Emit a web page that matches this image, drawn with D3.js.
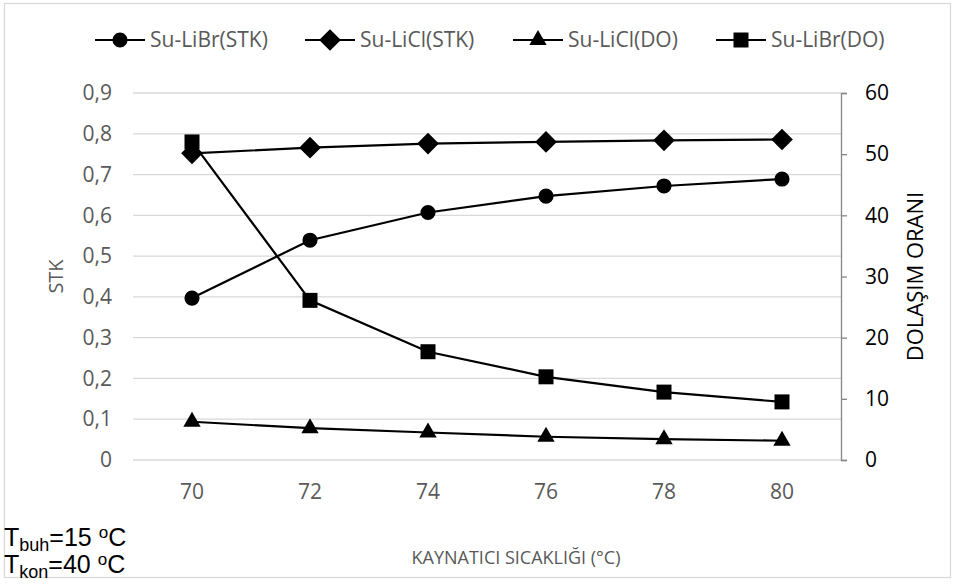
<!DOCTYPE html>
<html>
<head>
<meta charset="utf-8">
<script src="https://cdn.jsdelivr.net/npm/d3@7"></script>
<style>
  body { margin: 0; background: #fff; }
  svg { display: block; }
  text { font-family: "Open Sans", sans-serif; }
</style>
</head>
<body>
<svg id="chart" width="955" height="585"></svg>
<script>
// data
const temps = [70, 72, 74, 76, 78, 80];
const libStk = [0.397, 0.539, 0.607, 0.647, 0.672, 0.689];
const liclStk = [0.752, 0.766, 0.776, 0.780, 0.784, 0.786];
const liclDo = [6.25, 5.2, 4.5, 3.8, 3.4, 3.15];
const libDo = [52.0, 26.1, 17.7, 13.6, 11.1, 9.5];
const leftTicks = [0, 0.1, 0.2, 0.3, 0.4, 0.5, 0.6, 0.7, 0.8, 0.9];
const rightTicks = [0, 10, 20, 30, 40, 50, 60];

const series = [
  { name: "Su-LiBr(STK)", values: libStk, axis: "left", sym: d3.symbolCircle, size: 180 },
  { name: "Su-LiCl(STK)", values: liclStk, axis: "left", sym: d3.symbolDiamond2, size: 300 },
  { name: "Su-LiCl(DO)", values: liclDo, axis: "right", sym: d3.symbolTriangle, size: 130 },
  { name: "Su-LiBr(DO)", values: libDo, axis: "right", sym: d3.symbolSquare, size: 225 }
];

const svg = d3.select("#chart");
const plot = { left: 133, right: 841, top: 93, bottom: 460 };

// outer frame
svg.append("rect")
  .attr("x", 4.5).attr("y", 3.5).attr("width", 946).attr("height", 574)
  .attr("fill", "none").attr("stroke", "#d9d9d9").attr("stroke-width", 1.3);

const x = d3.scaleBand().domain(temps).range([plot.left, plot.right]);
const yL = d3.scaleLinear().domain([0, 0.9]).range([plot.bottom, plot.top]);
const yR = d3.scaleLinear().domain([0, 60]).range([plot.bottom, plot.top]);

// gridlines
svg.append("g").selectAll("line").data(leftTicks).join("line")
  .attr("x1", plot.left).attr("x2", plot.right)
  .attr("y1", d => yL(d)).attr("y2", d => yL(d))
  .attr("stroke", "#d9d9d9").attr("stroke-width", 1.3);

// left axis labels
const gl = svg.append("g")
  .attr("transform", `translate(${plot.left},0)`)
  .call(d3.axisLeft(yL).tickValues(leftTicks).tickSize(0).tickPadding(21)
    .tickFormat(d => d3.format(".1f")(d).replace(".", ",").replace(/^0,0$/, "0")));
gl.select(".domain").remove();
gl.selectAll("text").attr("fill", "#595959").style("font-size", "21px");

// right axis
const gr = svg.append("g")
  .attr("transform", `translate(${plot.right},0)`)
  .call(d3.axisRight(yR).tickValues(rightTicks).tickSize(6).tickPadding(18));
gr.select(".domain").attr("stroke", "#868686").attr("stroke-width", 1.3);
gr.selectAll(".tick line").attr("stroke", "#868686").attr("stroke-width", 1.3);
gr.selectAll("text").attr("fill", "#000").style("font-size", "21px");

// x axis labels
const gx = svg.append("g")
  .attr("transform", `translate(0,${plot.bottom})`)
  .call(d3.axisBottom(x).tickSize(0).tickPadding(24));
gx.select(".domain").remove();
gx.selectAll("text").attr("fill", "#595959").style("font-size", "21px");

// axis titles
svg.append("text")
  .attr("transform", `translate(63,${(plot.top + plot.bottom) / 2}) rotate(-90)`)
  .attr("text-anchor", "middle").attr("fill", "#595959").style("font-size", "20px")
  .text("STK");
svg.append("text")
  .attr("transform", `translate(923,${(plot.top + plot.bottom) / 2}) rotate(-90)`)
  .attr("text-anchor", "middle").attr("fill", "#000").style("font-size", "22px")
  .text("DOLAŞIM ORANI");
svg.append("text")
  .attr("x", (plot.left + plot.right) / 2 + 29).attr("y", 564)
  .attr("text-anchor", "middle").attr("fill", "#595959").style("font-size", "18px")
  .text("KAYNATICI SICAKLIĞI (°C)");

// lines + markers
const cx = d => x(d) + x.bandwidth() / 2;
series.forEach(s => {
  const y = s.axis === "left" ? yL : yR;
  const pts = temps.map((t, i) => [cx(t), y(s.values[i])]);
  svg.append("path")
    .attr("d", d3.line()(pts))
    .attr("fill", "none").attr("stroke", "#000").attr("stroke-width", 2.2);
  svg.append("g").selectAll("path").data(pts).join("path")
    .attr("transform", d => `translate(${d[0]},${d[1]})`)
    .attr("d", d3.symbol().type(s.sym).size(s.size))
    .attr("fill", "#000");
});

// legend
const legendX = [95, 305, 513, 716];
const lg = svg.append("g");
series.forEach((s, i) => {
  const g = lg.append("g").attr("transform", `translate(${legendX[i]},40)`);
  g.append("line").attr("x1", 0).attr("x2", 50).attr("stroke", "#000").attr("stroke-width", 2.2);
  g.append("path").attr("transform", "translate(25,0)")
    .attr("d", d3.symbol().type(s.sym).size(s.size)).attr("fill", "#000");
  g.append("text").attr("x", 55).attr("dy", "0.35em")
    .attr("fill", "#595959").style("font-size", "21px").text(s.name);
});

// conditions note
const note = svg.append("g");
[["buh", "15", 546], ["kon", "40", 573]].forEach(([sub, val, yy]) => {
  const t = note.append("text").attr("x", 4).attr("y", yy)
    .style("font-family", "'Liberation Sans', Arial, sans-serif")
    .style("font-size", "25px").attr("fill", "#000");
  t.append("tspan").text("T");
  t.append("tspan").attr("dy", 5).style("font-size", "18px").text(sub);
  t.append("tspan").attr("dy", -5).text("=" + val + "  ");
  t.append("tspan").attr("dy", -8).style("font-size", "17px").text("o");
  t.append("tspan").attr("dy", 8).text("C");
});
</script>
</body>
</html>
